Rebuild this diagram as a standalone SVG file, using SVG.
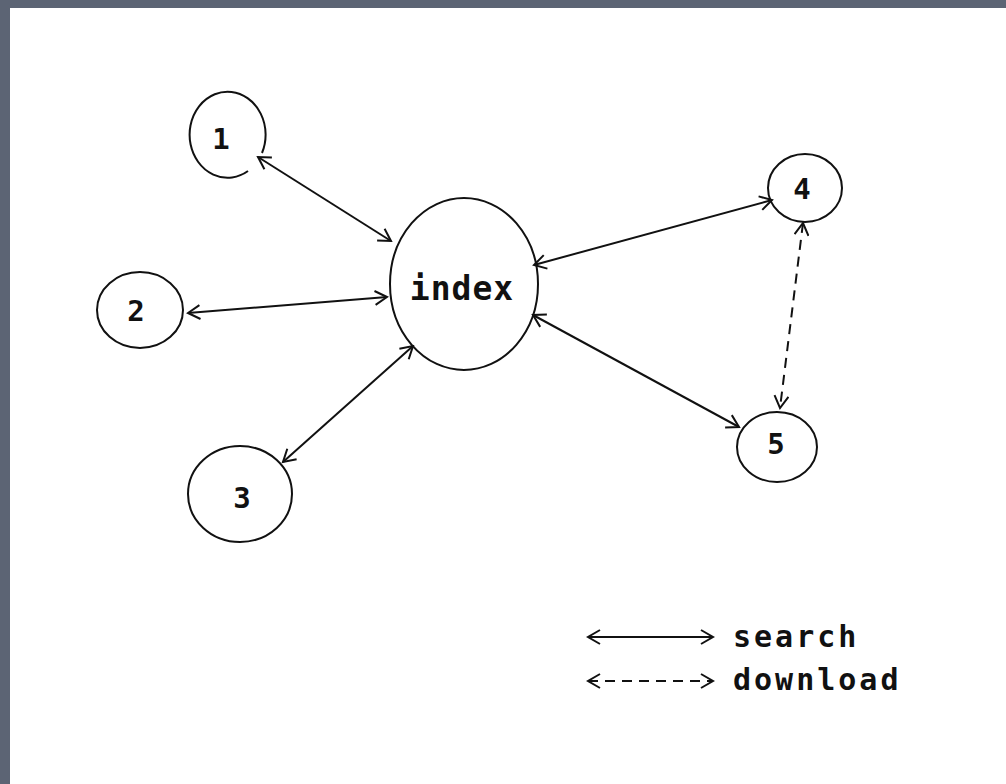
<svg xmlns="http://www.w3.org/2000/svg" width="1006" height="784" viewBox="0 0 1006 784">
<style>
.node{fill:none;stroke:#111;stroke-width:2}
.lbl{font-family:"DejaVu Sans Mono","Liberation Mono",monospace;font-weight:bold;fill:#111;text-anchor:middle;dominant-baseline:central}
.leg{font-family:"DejaVu Sans Mono","Liberation Mono",monospace;font-weight:bold;fill:#111;font-size:30px;letter-spacing:3px}
.edge{fill:none;stroke:#111;stroke-width:2;marker-start:url(#ah);marker-end:url(#ah)}
.dash{stroke-dasharray:10 7}
</style>
<defs>
<marker id="ah" viewBox="-14 -8 16 16" markerWidth="16" markerHeight="16" refX="0" refY="0" orient="auto-start-reverse" markerUnits="userSpaceOnUse">
<path d="M-12,-7 L0,0 L-12,7" fill="none" stroke="#111" stroke-width="2"/>
</marker>
</defs>
<rect x="0" y="0" width="1006" height="784" fill="#5c6474"/>
<rect x="10" y="8" width="996" height="776" fill="#ffffff"/>
<g id="connectors">
<line class="edge" x1="258" y1="157" x2="391" y2="241"/>
<line class="edge" x1="188" y1="313" x2="387" y2="297"/>
<line class="edge" x1="283" y1="462" x2="413" y2="346"/>
<line class="edge" x1="534" y1="265" x2="772" y2="200"/>
<line class="edge" x1="533" y1="315" x2="739" y2="427"/>
<line class="edge dash" x1="803" y1="223" x2="780" y2="408"/>
</g>
<g id="node-1"><path class="node" d="M262 153 A38 43 0 1 0 248 171"/><text class="lbl" x="221" y="139" font-size="29">1</text></g>
<g id="node-2"><ellipse class="node" cx="140" cy="310" rx="43" ry="38"/><text class="lbl" x="136" y="311" font-size="29">2</text></g>
<g id="node-3"><ellipse class="node" cx="240" cy="494" rx="52" ry="48"/><text class="lbl" x="242" y="498" font-size="29">3</text></g>
<g id="node-index"><ellipse class="node" cx="464" cy="284" rx="74" ry="86"/><text class="lbl" x="462" y="288" font-size="33" letter-spacing="1">index</text></g>
<g id="node-4"><ellipse class="node" cx="805" cy="188" rx="37" ry="34"/><text class="lbl" x="802" y="189" font-size="29">4</text></g>
<g id="node-5"><ellipse class="node" cx="777" cy="447" rx="40" ry="35"/><text class="lbl" x="776" y="444" font-size="29">5</text></g>
<g id="legend">
<line class="edge" x1="588" y1="637" x2="713" y2="637"/>
<line class="edge dash" x1="588" y1="681" x2="713" y2="681"/>
<text class="leg" x="733" y="647">search</text>
<text class="leg" x="733" y="690">download</text>
</g>
</svg>
